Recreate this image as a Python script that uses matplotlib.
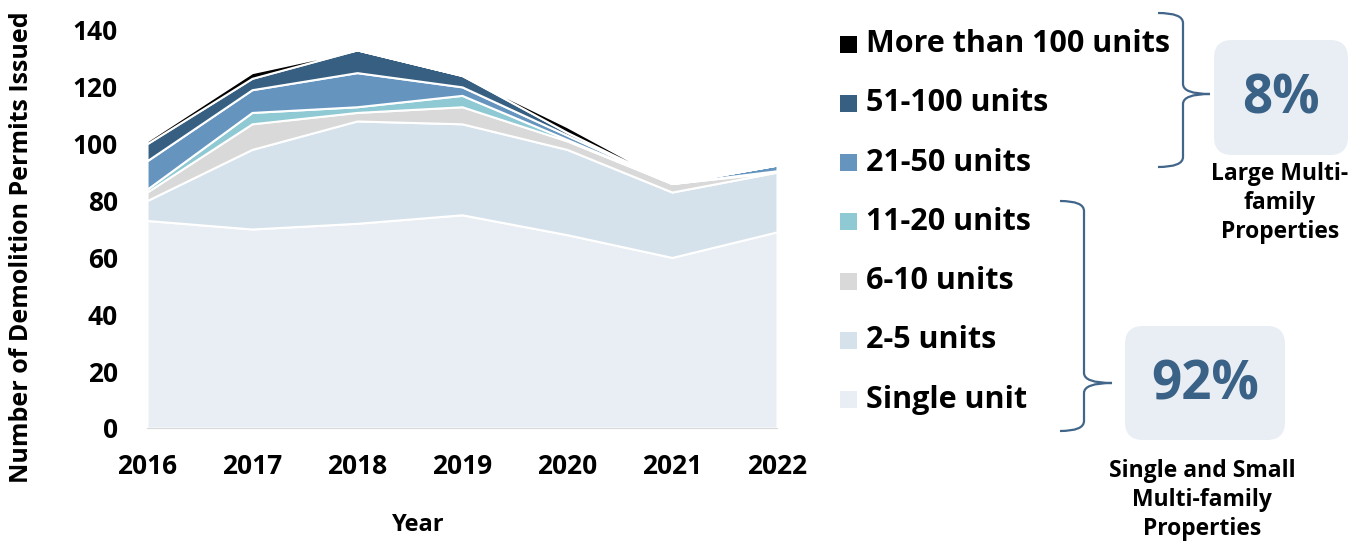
import matplotlib
matplotlib.use("Agg")
import matplotlib.pyplot as plt
from matplotlib.path import Path
from matplotlib.patches import PathPatch, FancyBboxPatch, Rectangle

plt.rcParams['font.family'] = ['Open Sans', 'DejaVu Sans']
plt.rcParams['font.weight'] = 'bold'

years = [2016, 2017, 2018, 2019, 2020, 2021, 2022]
single_unit = [73, 70, 72, 75, 68, 60, 69]
units_2_5 = [7, 28, 36, 32, 30, 23, 21]
units_6_10 = [3, 9, 3, 6, 3, 3, 0]
units_11_20 = [1, 4, 2, 4, 0.5, 0, 0.5]
units_21_50 = [10, 8, 12, 3, 1.5, 0, 2]
units_51_100 = [6, 4, 8, 4, 1, 0, 0]
units_100_plus = [1, 2, 0, 0, 2, 0, 0]

labels = ["Single unit", "2-5 units", "6-10 units", "11-20 units",
          "21-50 units", "51-100 units", "More than 100 units"]
colors = ["#E9EEF5", "#D5E2EC", "#D9D9D9", "#8FC9D3",
          "#6595BF", "#365F81", "#000000"]
series = [single_unit, units_2_5, units_6_10, units_11_20,
          units_21_50, units_51_100, units_100_plus]

W, H = 1362, 544
fig = plt.figure(figsize=(W / 100, H / 100), dpi=100)
ax = fig.add_axes([147 / W, 1 - 428 / H, (777 - 147) / W, (428 - 30) / H])

ax.stackplot(years, *series, colors=colors, edgecolor="white", linewidth=1.5)
ax.set_xlim(2016, 2022)
ax.set_ylim(0, 140)
ax.set_yticks(range(0, 141, 20))
ax.set_xticks(years)
ax.tick_params(axis="y", length=0, labelsize=19, pad=21)
ax.tick_params(axis="x", length=0, labelsize=19, pad=18)
for s in ["top", "right", "left"]:
    ax.spines[s].set_visible(False)
ax.spines["bottom"].set_color("#D9D9D9")
ax.set_ylabel("Number of Demolition Permits Issued", fontsize=18,
              fontweight="bold", va="center")
ax.set_xlabel("Year", fontsize=17, fontweight="bold", va="center")
ax.yaxis.set_label_coords((22 - 147) / 630, 0.455)
ax.xaxis.set_label_coords(0.43, (428 - 525) / 398)

# overlay in pixel coordinates for legend, braces and boxes
ov = fig.add_axes([0, 0, 1, 1], facecolor="none")
ov.set_xlim(0, W)
ov.set_ylim(H, 0)
ov.axis("off")

for i, (lab, col) in enumerate(zip(labels[::-1], colors[::-1])):
    y = 44 + i * 59.3
    ov.add_patch(Rectangle((840, y - 8.5), 17, 17, fc=col, ec="none"))
    ov.text(866, y, lab, fontsize=22, fontweight="bold", va="center",
            ha="left")


def brace(x_end, x_spine, x_tip, y_top, y_tip, y_bot, r=10):
    verts = [(x_end, y_top), (x_spine, y_top), (x_spine, y_top + r),
             (x_spine, y_tip - r), (x_spine, y_tip), (x_tip, y_tip),
             (x_spine, y_tip), (x_spine, y_tip + r),
             (x_spine, y_bot - r), (x_spine, y_bot), (x_end, y_bot)]
    codes = [Path.MOVETO, Path.CURVE3, Path.CURVE3,
             Path.LINETO, Path.CURVE3, Path.CURVE3,
             Path.CURVE3, Path.CURVE3,
             Path.LINETO, Path.CURVE3, Path.CURVE3]
    ov.add_patch(PathPatch(Path(verts, codes), fc="none", ec="#41668A",
                           lw=1.6))


brace(1158, 1183, 1210, 13, 94, 167)
brace(1060, 1084, 1112, 201, 383, 431)

box_color = "#E9EEF5"
pct_color = "#3A6186"
ov.add_patch(FancyBboxPatch((1214, 40), 134, 115,
                            boxstyle="round,pad=0,rounding_size=18",
                            fc=box_color, ec="none"))
ov.text(1281, 100, "8%", fontsize=38, fontweight="bold", color=pct_color,
        ha="center", va="center")
ov.text(1280, 203, "Large Multi-\nfamily\nProperties", fontsize=16.5,
        fontweight="bold", ha="center", va="center", linespacing=1.3)

ov.add_patch(FancyBboxPatch((1125, 326), 160, 114,
                            boxstyle="round,pad=0,rounding_size=18",
                            fc=box_color, ec="none"))
ov.text(1205, 386, "92%", fontsize=38, fontweight="bold", color=pct_color,
        ha="center", va="center")
ov.text(1202, 500, "Single and Small\nMulti-family\nProperties", fontsize=16.5,
        fontweight="bold", ha="center", va="center", linespacing=1.3)

fig.savefig("out.png", dpi=100)
